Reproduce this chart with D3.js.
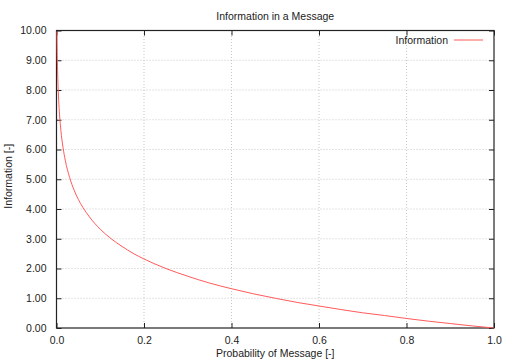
<!DOCTYPE html>
<html>
<head>
<meta charset="utf-8">
<script src="https://cdn.jsdelivr.net/npm/d3@7"></script>
<style>
  body { margin: 0; background: #fff; }
  text { font-family: "Liberation Sans", Arial, sans-serif; fill: #222; }
</style>
</head>
<body>
<div id="chart"></div>
<script>
// values
const probs = [0.001, 0.0015, 0.002, 0.003, 0.004, 0.005, 0.007, 0.01, 0.015, 0.02, 0.03, 0.04, 0.05, 0.06,
  0.075, 0.1, 0.125, 0.15, 0.175, 0.2, 0.25, 0.3, 0.35, 0.4, 0.45, 0.5, 0.55, 0.6, 0.65, 0.7, 0.75, 0.8,
  0.85, 0.9, 0.95, 1.0];
const info = [9.97, 9.38, 8.97, 8.38, 7.97, 7.64, 7.16, 6.64, 6.06, 5.64, 5.06, 4.64, 4.32, 4.06,
  3.74, 3.32, 3.0, 2.74, 2.51, 2.32, 2.0, 1.74, 1.51, 1.32, 1.15, 1.0, 0.86, 0.74, 0.62, 0.51, 0.42, 0.32,
  0.23, 0.15, 0.07, 0.0];
const xTicks = [0, 0.2, 0.4, 0.6, 0.8, 1.0];
const yTicks = [0, 1, 2, 3, 4, 5, 6, 7, 8, 9, 10];

const width = 512, height = 359;
const m = {left: 56.5, right: 18, top: 30.5, bottom: 31};

let svg = d3.select("#chart").append("svg")
  .attr("width", width).attr("height", height);

let x = d3.scaleLinear().domain([0, 1]).range([m.left, width - m.right]);
let y = d3.scaleLinear().domain([0, 10]).range([height - m.bottom, m.top]);

// grid
svg.append("g").selectAll("line").data(xTicks.slice(1, -1)).join("line")
  .attr("x1", d => x(d)).attr("x2", d => x(d))
  .attr("y1", y(0)).attr("y2", y(10))
  .attr("stroke", "#b0b0b0").attr("stroke-width", 0.7).attr("stroke-dasharray", "1,2");
svg.append("g").selectAll("line").data(yTicks.slice(1, -1)).join("line")
  .attr("x1", x(0)).attr("x2", x(1))
  .attr("y1", d => y(d)).attr("y2", d => y(d))
  .attr("stroke", "#b0b0b0").attr("stroke-width", 0.7).attr("stroke-dasharray", "1,2");

// axes, ticks pointing inward like gnuplot
let xAxis = d3.axisBottom(x).tickValues(xTicks).tickFormat(d3.format(".1f")).tickSizeInner(-5).tickSizeOuter(0).tickPadding(9);
let yAxis = d3.axisLeft(y).tickValues(yTicks).tickFormat(d3.format(".2f")).tickSizeInner(-5).tickSizeOuter(0).tickPadding(10);

svg.append("g").attr("transform", `translate(0,${y(0)})`).call(xAxis);
svg.append("g").attr("transform", `translate(${x(0)},0)`).call(yAxis);
svg.append("g").attr("transform", `translate(0,${y(10)})`)
  .call(d3.axisTop(x).tickValues(xTicks).tickSizeInner(-5).tickSizeOuter(0).tickFormat(""));
svg.append("g").attr("transform", `translate(${x(1)},0)`)
  .call(d3.axisRight(y).tickValues(yTicks).tickSizeInner(-5).tickSizeOuter(0).tickFormat(""));

svg.selectAll(".domain").remove();
svg.selectAll(".tick line").attr("stroke", "#222");
svg.selectAll(".tick text").style("font-size", "10.5px").attr("fill", "#222");

svg.append("rect")
  .attr("x", x(0)).attr("y", y(10))
  .attr("width", x(1) - x(0)).attr("height", y(0) - y(10))
  .attr("fill", "none").attr("stroke", "#222").attr("stroke-width", 1.2);

// the curve
let line = d3.line().x((d, i) => x(probs[i])).y(d => y(d)).curve(d3.curveMonotoneX);
svg.append("path").datum(info)
  .attr("d", line)
  .attr("fill", "none").attr("stroke", "#ff5a5a").attr("stroke-width", 1);

// legend
svg.append("text").attr("x", 448).attr("y", y(10) + 13)
  .attr("text-anchor", "end").style("font-size", "10.5px").text("Information");
svg.append("line").attr("x1", 454).attr("x2", 483)
  .attr("y1", y(10) + 9.5).attr("y2", y(10) + 9.5)
  .attr("stroke", "#ff5a5a").attr("stroke-width", 1);

// titles
svg.append("text").attr("x", (x(0) + x(1)) / 2).attr("y", 20)
  .attr("text-anchor", "middle").style("font-size", "10.5px").text("Information in a Message");
svg.append("text").attr("x", (x(0) + x(1)) / 2).attr("y", 357)
  .attr("text-anchor", "middle").style("font-size", "10.5px").text("Probability of Message [-]");
svg.append("text").attr("transform", `translate(12,${(y(0) + y(10)) / 2 - 3}) rotate(-90)`)
  .attr("text-anchor", "middle").style("font-size", "10.5px").text("Information [-]");
</script>
</body>
</html>
